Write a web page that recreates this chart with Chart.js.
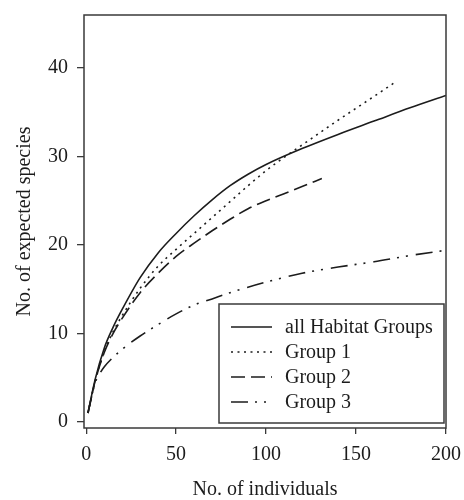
<!DOCTYPE html>
<html>
<head>
<meta charset="utf-8">
<script src="https://cdn.jsdelivr.net/npm/chart.js@4"></script>
<style>
  body { margin: 0; background: #fff; }
  canvas { display: block; }
</style>
</head>
<body>
<canvas id="chart1" width="464" height="500"></canvas>
<script>
// rarefaction curves
const nAll = [1, 5, 10, 15, 20, 30, 40, 50, 60, 70, 80, 90, 100, 120, 140, 160, 180, 200];
const sppAll = [1, 4.8, 8.3, 10.7, 12.7, 16.3, 19.1, 21.3, 23.3, 25.1, 26.7, 28.0, 29.1, 30.9, 32.5, 34.0, 35.5, 36.9];

const nGroup1 = [1, 5, 10, 15, 20, 30, 40, 50, 60, 70, 80, 90, 100, 110, 120, 140, 160, 171];
const sppGroup1 = [1, 4.6, 7.9, 10.2, 12.0, 15.1, 17.6, 19.5, 21.3, 23.1, 24.9, 26.7, 28.4, 29.9, 31.3, 34.1, 36.8, 38.3];

const nGroup2 = [1, 5, 10, 15, 20, 30, 40, 50, 60, 70, 80, 90, 100, 110, 120, 131];
const sppGroup2 = [1, 4.6, 7.8, 10.0, 11.7, 14.6, 16.8, 18.7, 20.2, 21.6, 22.9, 24.1, 25.0, 25.8, 26.6, 27.5];

const nGroup3 = [1, 5, 8, 10, 15, 20, 30, 40, 50, 60, 70, 80, 100, 120, 140, 160, 180, 200];
const sppGroup3 = [1, 4.4, 5.6, 6.2, 7.3, 8.2, 9.7, 11.0, 12.2, 13.2, 13.9, 14.6, 15.8, 16.8, 17.5, 18.1, 18.8, 19.4];

const seriesLabels = ['all Habitat Groups', 'Group 1', 'Group 2', 'Group 3'];
const xTicks = [0, 50, 100, 150, 200];
const yTicks = [0, 10, 20, 30, 40];

const ink = '#1c1c1c';
const serif = 'Liberation Serif, Times New Roman, serif';

function toPoints(xs, ys) {
  return xs.map((x, i) => ({ x: x, y: ys[i] }));
}

function makeDataset(label, xs, ys, dash) {
  return {
    label: label,
    data: toPoints(xs, ys),
    borderColor: ink,
    borderWidth: 1.6,
    borderDash: dash,
    pointRadius: 0,
    fill: false,
    cubicInterpolationMode: 'monotone',
  };
}

// box round the plot region plus the legend inside it
const boxAndLegend = {
  id: 'boxAndLegend',
  afterDraw(chart) {
    const ctx = chart.ctx;
    const area = chart.chartArea;
    ctx.save();
    ctx.strokeStyle = '#3a3a3a';
    ctx.lineWidth = 1.5;
    ctx.setLineDash([]);
    ctx.strokeRect(area.left, area.top, area.right - area.left, area.bottom - area.top);

    const boxW = 225;
    const boxH = 119;
    const bx = area.right - 2 - boxW;
    const by = area.bottom - 5 - boxH;
    ctx.fillStyle = '#fff';
    ctx.fillRect(bx, by, boxW, boxH);
    ctx.strokeRect(bx, by, boxW, boxH);

    ctx.font = '20px ' + serif;
    ctx.textBaseline = 'middle';
    ctx.textAlign = 'left';
    chart.data.datasets.forEach((ds, i) => {
      const y = by + 23 + i * 25;
      ctx.strokeStyle = ink;
      ctx.lineWidth = ds.borderWidth;
      ctx.setLineDash(ds.borderDash || []);
      ctx.beginPath();
      ctx.moveTo(bx + 12, y);
      ctx.lineTo(bx + 53, y);
      ctx.stroke();
      ctx.setLineDash([]);
      ctx.fillStyle = ink;
      ctx.fillText(ds.label, bx + 66, y + 1);
    });
    ctx.restore();
  },
};

const ctx = document.getElementById('chart1').getContext('2d');
const chart1 = new Chart(ctx, {
  type: 'line',
  data: {
    datasets: [
      makeDataset(seriesLabels[0], nAll, sppAll, []),
      makeDataset(seriesLabels[1], nGroup1, sppGroup1, [2, 4.5]),
      makeDataset(seriesLabels[2], nGroup2, sppGroup2, [14, 6]),
      makeDataset(seriesLabels[3], nGroup3, sppGroup3, [17, 7, 2, 7, 2, 8]),
    ],
  },
  options: {
    responsive: false,
    animation: false,
    layout: {
      padding: { top: 15, right: 18, left: 0, bottom: 0 },
    },
    plugins: {
      legend: { display: false },
      tooltip: { enabled: false },
    },
    scales: {
      x: {
        type: 'linear',
        min: -1.2,
        max: 200,
        afterBuildTicks: (scale) => {
          scale.ticks = xTicks.map((v) => ({ value: v }));
        },
        afterFit: (scale) => {
          scale.height = 72;
          scale.paddingLeft = 0;
          scale.paddingRight = 0;
        },
        grid: {
          drawOnChartArea: false,
          drawTicks: true,
          tickLength: 6,
          color: '#3a3a3a',
          lineWidth: 1.3,
        },
        border: { display: false },
        ticks: {
          color: ink,
          padding: 9,
          maxRotation: 0,
          font: { family: serif, size: 20 },
        },
        title: {
          display: true,
          text: 'No. of individuals',
          color: ink,
          padding: { top: 0, bottom: 0 },
          font: { family: serif, size: 20, lineHeight: 1 },
        },
      },
      y: {
        type: 'linear',
        min: -0.7,
        max: 46,
        afterBuildTicks: (scale) => {
          scale.ticks = yTicks.map((v) => ({ value: v }));
        },
        afterFit: (scale) => {
          scale.width = 84;
          scale.paddingTop = 0;
          scale.paddingBottom = 0;
        },
        grid: {
          drawOnChartArea: false,
          drawTicks: true,
          tickLength: 7,
          color: '#3a3a3a',
          lineWidth: 1.3,
        },
        border: { display: false },
        ticks: {
          color: ink,
          padding: 9,
          font: { family: serif, size: 20 },
        },
        title: {
          display: true,
          text: 'No. of expected species',
          color: ink,
          padding: { top: 15, bottom: 0 },
          font: { family: serif, size: 20, lineHeight: 1 },
        },
      },
    },
  },
  plugins: [boxAndLegend],
});
</script>
</body>
</html>
